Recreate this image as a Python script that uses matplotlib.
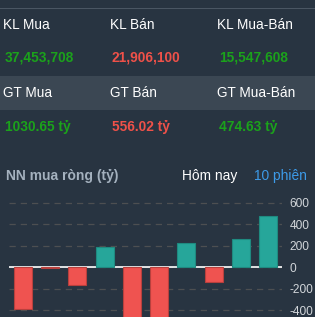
import matplotlib
matplotlib.use("Agg")
import matplotlib.pyplot as plt
from matplotlib.patches import Rectangle

# DATA
kl_labels = ["KL Mua", "KL Bán", "KL Mua-Bán"]
kl_values = ["37,453,708", "21,906,100", "15,547,608"]
gt_labels = ["GT Mua", "GT Bán", "GT Mua-Bán"]
gt_values = ["1030.65 tỷ", "556.02 tỷ", "474.63 tỷ"]
value_sides = ["buy", "sell", "buy"]

net_buy = [-395, -5, -170, 182, -520, -495, 223, -142, 257, 474.63]
y_ticks = [-400, -200, 0, 200, 400, 600]

# COLOURS
BG = "#283441"
BAND = "#3b4753"
GREEN = "#1ba21b"
RED = "#ef5149"
UP = "#26a69a"
DOWN = "#ef5350"

plt.rcParams["font.family"] = ["Liberation Sans", "DejaVu Sans"]

W, H = 315, 317
fig = plt.figure(figsize=(W / 100, H / 100), dpi=100, facecolor=BG)

# background canvas in pixel coords
bg = fig.add_axes([0, 0, 1, 1])
bg.set_xlim(0, W)
bg.set_ylim(H, 0)
bg.axis("off")
bg.add_patch(Rectangle((0, 7.5), W, 1.2, color="#4a5663", lw=0))
bg.add_patch(Rectangle((0, 76), W, 34, color=BAND, lw=0))

col_x = [3, 110, 217]
for i in range(3):
    c = GREEN if value_sides[i] == "buy" else RED
    bg.text(col_x[i], 25, kl_labels[i], color="white", fontsize=9.8, va="center")
    bg.text(col_x[i] + 2, 58, kl_values[i], color=c, fontsize=9.9,
            fontweight="bold", va="center")
    bg.text(col_x[i], 93, gt_labels[i], color="white", fontsize=9.8, va="center")
    bg.text(col_x[i] + 2, 127, gt_values[i], color=c, fontsize=9.9,
            fontweight="bold", va="center")

bg.text(6, 176, "NN mua ròng (tỷ)", color="#a4b1be", fontsize=10,
        fontweight="bold", va="center")
bg.text(182, 176, "Hôm nay", color="white", fontsize=9.9, va="center")
bg.text(254, 176, "10 phiên", color="#3d9be9", fontsize=9.9, va="center")

# CHART
ax_top, ax_bot = 194, 317
ax = fig.add_axes([9 / W, 1 - ax_bot / H, (282 - 9) / W, (ax_bot - ax_top) / H])
ax.set_facecolor("none")

x = list(range(len(net_buy)))
colors = [UP if v >= 0 else DOWN for v in net_buy]
edges = ["#1f8a80" if v >= 0 else "#b8403d" for v in net_buy]
ax.bar(x, net_buy, width=0.66, color=colors, edgecolor=edges, linewidth=0.8,
       zorder=3)
ax.axhline(0, color="white", lw=1.2, zorder=2)

ax.set_xlim(-0.5, 9.5)
ax.set_ylim(-465, 680)
ax.set_yticks(y_ticks)
ax.set_yticklabels([str(t) for t in y_ticks])
ax.yaxis.tick_right()
ax.tick_params(axis="y", length=0, pad=5.5, labelsize=8.6, labelcolor="#d2d6da")
ax.set_xticks([])
ax.grid(axis="y", color="#4d4f51", lw=0.9, ls=(0, (5, 4)), zorder=1)
for s in ax.spines.values():
    s.set_visible(False)

fig.savefig("out.png", dpi=100, facecolor=BG)
